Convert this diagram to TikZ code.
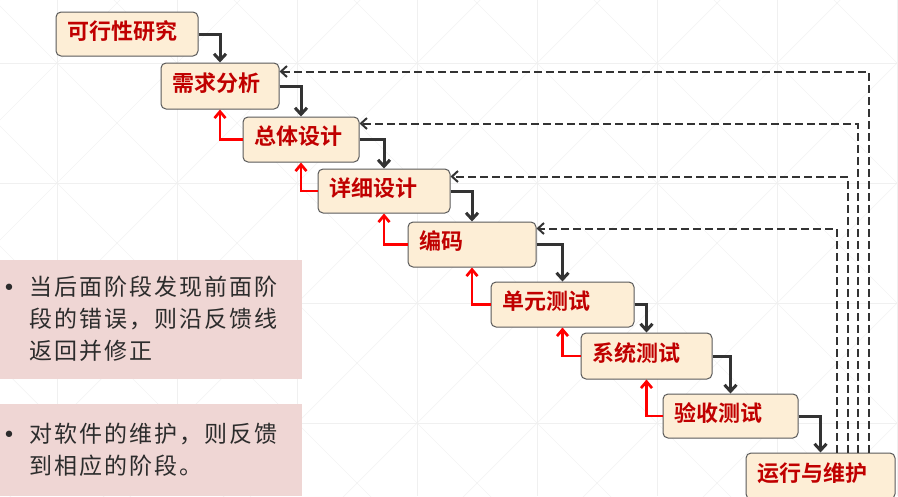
\documentclass[tikz,border=0pt]{standalone}
\usepackage{fontspec}
\newfontfamily\cjk{Noto Sans CJK SC}[BoldFont={Noto Sans CJK SC Bold}]
\newfontfamily\notefont{Noto Sans CJK SC}[LetterSpace=9]
\newfontfamily\dejavu{DejaVu Sans}
\usetikzlibrary{arrows.meta,calc}

\definecolor{boxfill}{HTML}{FDEED6}
\definecolor{boxline}{HTML}{5A5A5A}
\definecolor{stagetext}{HTML}{C00000}
\definecolor{flow}{HTML}{333333}
\definecolor{backflow}{HTML}{FF0000}
\definecolor{notefill}{HTML}{EFD6D4}
\definecolor{notetext}{HTML}{2C2C2C}
\definecolor{gridline}{HTML}{F0F0F0}
\definecolor{gridiag}{HTML}{F4F4F4}

\tikzset{
  stage/.style={draw=boxline, line width=1pt, fill=boxfill, rounded corners=5pt,
    font=\cjk\bfseries\fontsize{22pt}{24pt}\selectfont, text=stagetext,
    align=left, inner xsep=11pt, inner ysep=0pt, text height=17pt, text depth=7pt},
  flowarrow/.style={draw=flow, line width=3pt,
    -{Straight Barb[length=6.5pt,width=12pt]}},
  backarrow/.style={draw=backflow, line width=2.7pt,
    -{Straight Barb[length=6.5pt,width=11pt]}},
  feedback/.style={draw=flow, line width=2pt, dash pattern=on 7.5pt off 4.5pt,
    -{Straight Barb[length=6pt,width=11pt]}},
  notebox/.style={fill=notefill, draw=none, inner sep=0pt, anchor=north west},
  noteline/.style={font=\notefont\fontsize{23pt}{32pt}\selectfont, text=notetext,
    inner sep=0pt, anchor=base west},
  notebullet/.style={font=\dejavu\fontsize{22pt}{24pt}\selectfont, text=notetext,
    inner sep=0pt, anchor=base},
}

\begin{document}
\begin{tikzpicture}[x=1pt, y=-1pt]
\useasboundingbox (0,0) rectangle (898,496);

% faint background grid with diagonals
\begin{scope}
  \clip (0,0) rectangle (898,496);
  \fill[white] (0,0) rectangle (898,496);
  \foreach \c in {-486,-366,...,834}
    \draw[gridiag, line width=0.7pt] (\c-100,-100) -- (\c+700,700);
  \foreach \d in {0,120,...,1440}
    \draw[gridiag, line width=0.7pt] (\d+100,-100) -- (\d-700,700);
  \foreach \gx in {57,177,...,897}
    \draw[gridline, line width=0.7pt] (\gx,0) -- (\gx,496);
  \foreach \gy in {63,183,303,423}
    \draw[gridline, line width=0.7pt] (0,\gy) -- (898,\gy);
\end{scope}

% notes on the left
\node[notebox, minimum width=302pt, minimum height=119pt] (note1) at (0,260) {};
\node[notebullet] (bul1) at (9,295) {•};
\node[noteline] (n1a) at (29,295) {当后面阶段发现前面阶};
\node[noteline] (n1b) at (29,327) {段的错误，则沿反馈线};
\node[noteline] (n1c) at (29,359) {返回并修正};

\node[notebox, minimum width=302pt, minimum height=92pt] (note2) at (0,404) {};
\node[notebullet] (bul2) at (9,442) {•};
\node[noteline] (n2a) at (29,442) {对软件的维护，则反馈};
\node[noteline] (n2b) at (29,474) {到相应的阶段。};

% waterfall stages
\node[stage, text width=120pt, minimum height=44pt] (s1) at (127,34)    {可行性研究};
\node[stage, text width=96pt,  minimum height=46pt] (s2) at (220,86)    {需求分析};
\node[stage, text width=94pt,  minimum height=45pt] (s3) at (301,139.5) {总体设计};
\node[stage, text width=110pt, minimum height=44pt] (s4) at (384,191)   {详细设计};
\node[stage, text width=106pt, minimum height=45pt] (s5) at (472,244.5) {编码};
\node[stage, text width=121pt, minimum height=45pt] (s6) at (562.5,304.5) {单元测试};
\node[stage, text width=109pt, minimum height=46pt] (s7) at (646.5,356) {系统测试};
\node[stage, text width=113pt, minimum height=44pt] (s8) at (730.5,416) {验收测试};
\node[stage, text width=127pt, minimum height=46pt] (s9) at (820.5,476) {运行与维护};

% forward flow
\draw[flowarrow] (s1.east) -| (s2.north);
\draw[flowarrow] (s2.east) -| (s3.north);
\draw[flowarrow] (s3.east) -| (s4.north);
\draw[flowarrow] (s4.east) -| (s5.north);
\draw[flowarrow] (s5.east) -| (s6.north);
\draw[flowarrow] (s6.east) -| (s7.north);
\draw[flowarrow] (s7.east) -| (s8.north);
\draw[flowarrow] (s8.east) -| (s9.north);

% error correction back to the previous stage
\draw[backarrow] (s3.west) -| (s2.south);
\draw[backarrow] (s4.west) -| (s3.south);
\draw[backarrow] (s5.west) -| (s4.south);
\draw[backarrow] (s6.west) -| (s5.south);
\draw[backarrow] (s7.west) -| (s6.south);
\draw[backarrow] (s8.west) -| (s7.south);

% maintenance feedback
\draw[feedback] ($(s9.north west)+(123,0)$) |- ($(s2.north east)+(0,9)$);
\draw[feedback] ($(s9.north west)+(112,0)$) |- ($(s3.north east)+(0,7)$);
\draw[feedback] ($(s9.north west)+(102,0)$) |- ($(s4.north east)+(0,8)$);
\draw[feedback] ($(s9.north west)+(91,0)$)  |- ($(s5.north east)+(0,7)$);
\end{tikzpicture}
\end{document}
